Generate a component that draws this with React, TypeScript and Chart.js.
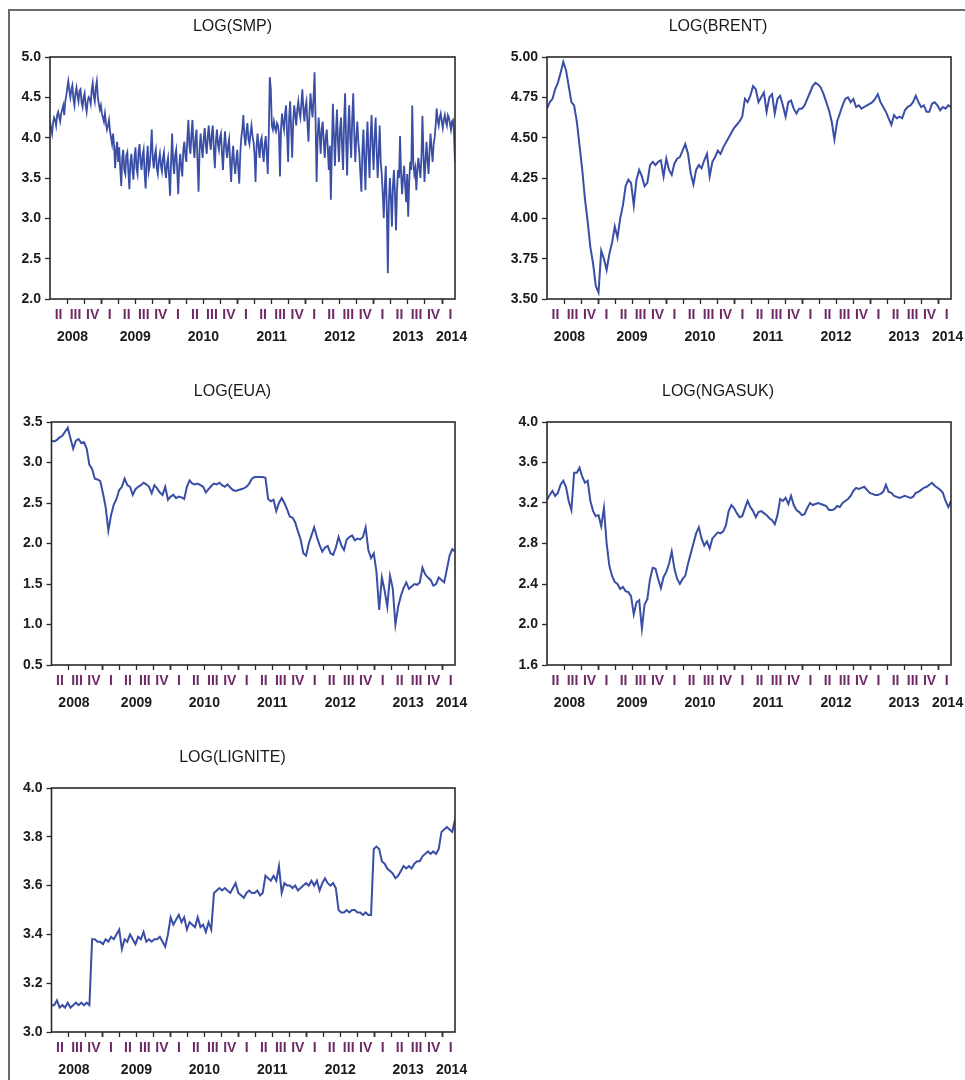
import React, { useEffect, useRef } from "react";
import { Chart, registerables } from "chart.js";

Chart.register(...registerables);

const FONT = "'Liberation Sans', Arial, sans-serif";
const LINE_COLOR = "#3a4ea6";
const AXIS_COLOR = "#2a2a2a";
const TEXT_COLOR = "#1a1a1a";
const QUARTER_COLOR = "#6e2a66";

const X_START = 2008.25;
const X_END = 2014.19;

const QUARTER_TICKS = [
  2008.5, 2008.75, 2009, 2009.25, 2009.5, 2009.75, 2010, 2010.25, 2010.5, 2010.75,
  2011, 2011.25, 2011.5, 2011.75, 2012, 2012.25, 2012.5, 2012.75, 2013, 2013.25,
  2013.5, 2013.75, 2014,
];
const QUARTER_LABEL_POS = [
  2008.375, 2008.625, 2008.875,
  2009.125, 2009.375, 2009.625, 2009.875,
  2010.125, 2010.375, 2010.625, 2010.875,
  2011.125, 2011.375, 2011.625, 2011.875,
  2012.125, 2012.375, 2012.625, 2012.875,
  2013.125, 2013.375, 2013.625, 2013.875,
  2014.125,
];
const QUARTER_LABELS = [
  "II", "III", "IV",
  "I", "II", "III", "IV",
  "I", "II", "III", "IV",
  "I", "II", "III", "IV",
  "I", "II", "III", "IV",
  "I", "II", "III", "IV",
  "I",
];
const YEAR_LABEL_POS = [2008.58, 2009.5, 2010.5, 2011.5, 2012.5, 2013.5, 2014.14];
const YEAR_LABELS = ["2008", "2009", "2010", "2011", "2012", "2013", "2014"];

const SMP = [
  4.20, 4.12, 4.05, 4.18, 4.25, 4.22, 4.15, 4.28, 4.32, 4.26, 4.20, 4.30, 4.35, 4.40, 4.28, 4.45, 4.52, 4.62, 4.70, 4.58,
  4.50, 4.60, 4.65, 4.48, 4.40, 4.55, 4.62, 4.52, 4.45, 4.58, 4.60, 4.44, 4.38, 4.50, 4.55, 4.40, 4.32, 4.45, 4.50, 4.48,
  4.42, 4.60, 4.68, 4.52, 4.45, 4.62, 4.70, 4.50, 4.42, 4.35, 4.40, 4.30, 4.25, 4.20, 4.30, 4.18, 4.10, 4.15, 4.22, 4.08,
  4.00, 3.92, 4.05, 3.90, 3.62, 3.85, 3.95, 3.70, 3.88, 3.62, 3.40, 3.75, 3.85, 3.60, 3.55, 3.78, 3.82, 3.58, 3.36, 3.70,
  3.80, 3.60, 3.48, 3.75, 3.88, 3.62, 3.55, 3.82, 3.92, 3.70, 3.60, 3.78, 3.85, 3.55, 3.37, 3.72, 3.90, 3.58, 3.65, 3.85,
  4.10, 3.75, 3.62, 3.78, 3.85, 3.62, 3.55, 3.72, 3.80, 3.65, 3.58, 3.75, 3.82, 3.60, 3.50, 3.68, 3.75, 3.52, 3.28, 3.70,
  4.05, 3.70, 3.55, 3.78, 3.85, 3.60, 3.30, 3.65, 3.80, 3.62, 3.52, 3.85, 3.95, 3.78, 3.70, 4.00, 4.22, 3.90, 3.80, 4.05,
  4.22, 3.90, 3.75, 4.00, 4.10, 3.70, 3.33, 3.85, 4.05, 3.88, 3.75, 3.98, 4.12, 3.92, 3.80, 4.02, 4.15, 3.95, 3.85, 4.05,
  4.15, 3.85, 3.62, 3.95, 4.10, 3.92, 3.85, 4.00, 4.05, 3.80, 3.60, 3.90, 4.08, 3.88, 3.75, 3.90, 3.98, 3.70, 3.45, 3.75,
  3.90, 3.68, 3.55, 3.72, 3.85, 3.62, 3.43, 3.80, 4.00, 4.10, 4.28, 4.02, 3.90, 4.08, 4.18, 3.98, 3.92, 4.05, 4.15, 4.02,
  3.95, 3.80, 3.45, 3.90, 4.05, 3.88, 3.75, 3.95, 4.00, 3.82, 3.70, 3.92, 4.02, 3.80, 3.55, 4.05, 4.75, 4.60, 4.15, 4.10,
  4.20, 4.12, 4.08, 4.18, 4.15, 4.05, 3.52, 4.10, 4.30, 4.18, 4.10, 4.30, 4.40, 4.05, 3.70, 4.25, 4.45, 4.10, 3.75, 4.20,
  4.40, 4.28, 4.15, 4.35, 4.45, 4.32, 4.25, 4.42, 4.60, 4.35, 4.20, 4.38, 4.45, 4.18, 3.95, 4.30, 4.55, 4.38, 4.25, 4.50,
  4.81, 4.20, 3.45, 4.00, 4.25, 4.05, 3.80, 4.10, 4.20, 3.95, 3.75, 4.00, 4.10, 3.85, 3.60, 3.90, 3.23, 3.85, 4.42, 4.05,
  3.65, 4.05, 4.35, 3.95, 3.70, 4.10, 4.25, 3.90, 3.60, 4.20, 4.55, 3.95, 3.53, 4.10, 4.40, 4.00, 3.75, 4.25, 4.55, 4.05,
  3.70, 4.00, 4.20, 3.95, 3.80, 3.55, 3.33, 3.85, 4.10, 3.70, 3.35, 3.90, 4.20, 3.80, 3.50, 4.00, 4.28, 3.90, 3.60, 4.00,
  4.25, 3.85, 3.50, 3.80, 4.15, 3.70, 3.55, 3.30, 3.00, 3.40, 3.65, 3.10, 2.32, 3.20, 3.50, 3.25, 2.90, 3.40, 3.60, 3.30,
  2.85, 3.35, 3.60, 3.50, 4.02, 3.55, 3.30, 3.50, 3.65, 3.40, 3.20, 3.55, 3.02, 3.45, 3.70, 3.60, 4.40, 3.70, 3.55, 3.62,
  3.35, 3.60, 3.75, 3.62, 3.50, 3.75, 4.27, 3.80, 3.45, 3.70, 3.95, 3.72, 3.55, 3.85, 4.05, 3.85, 3.70, 3.92, 4.00, 4.15,
  4.36, 4.22, 4.15, 4.25, 4.30, 4.20, 4.12, 4.22, 4.28, 4.20, 4.15, 4.28, 4.25, 4.18, 4.10, 4.20, 4.22, 4.05, 3.70,
];

const BRENT = [
  4.68, 4.72, 4.74, 4.80, 4.84, 4.90, 4.97, 4.92, 4.82, 4.72,
  4.70, 4.60, 4.45, 4.30, 4.12, 3.98, 3.82, 3.72, 3.58, 3.54,
  3.80, 3.75, 3.68, 3.78, 3.85, 3.95, 3.88, 4.00, 4.08, 4.20,
  4.24, 4.22, 4.08, 4.24, 4.30, 4.26, 4.20, 4.22, 4.33, 4.35,
  4.33, 4.35, 4.36, 4.26, 4.37, 4.30, 4.27, 4.34, 4.37, 4.38,
  4.42, 4.46, 4.40, 4.28, 4.21, 4.30, 4.33, 4.31, 4.36, 4.40,
  4.26, 4.35, 4.38, 4.42, 4.40, 4.44, 4.47, 4.50, 4.53, 4.56,
  4.58, 4.60, 4.63, 4.74, 4.72, 4.76, 4.82, 4.80, 4.72, 4.75,
  4.78, 4.66, 4.75, 4.77, 4.65, 4.74, 4.76, 4.70, 4.63, 4.72,
  4.73, 4.68, 4.65, 4.68, 4.68, 4.70, 4.74, 4.78, 4.82, 4.84,
  4.83, 4.81, 4.77, 4.72, 4.67, 4.60, 4.49, 4.60, 4.65, 4.70,
  4.74, 4.75, 4.72, 4.74, 4.69, 4.70, 4.68, 4.69, 4.70, 4.71,
  4.72, 4.74, 4.77, 4.72, 4.69, 4.66, 4.62, 4.58, 4.64, 4.62,
  4.63, 4.62, 4.67, 4.69, 4.70, 4.72, 4.76, 4.72, 4.69, 4.70,
  4.66, 4.66, 4.71, 4.72, 4.70, 4.67, 4.69, 4.68, 4.70, 4.69,
];

const EUA = [
  3.27, 3.26, 3.28, 3.31, 3.33, 3.38, 3.43, 3.30, 3.17, 3.27,
  3.29, 3.24, 3.25, 3.17, 2.97, 2.92, 2.80, 2.79, 2.77, 2.62,
  2.45, 2.16, 2.35, 2.48, 2.55, 2.66, 2.70, 2.80, 2.72, 2.70,
  2.60, 2.67, 2.70, 2.72, 2.75, 2.73, 2.70, 2.62, 2.72, 2.68,
  2.63, 2.60, 2.70, 2.54, 2.58, 2.60, 2.56, 2.58, 2.57, 2.55,
  2.70, 2.78, 2.74, 2.73, 2.74, 2.72, 2.70, 2.63, 2.67, 2.71,
  2.74, 2.73, 2.75, 2.72, 2.70, 2.73, 2.69, 2.66, 2.65, 2.66,
  2.67, 2.68, 2.70, 2.74, 2.80, 2.82, 2.82, 2.82, 2.82, 2.81,
  2.55, 2.52, 2.54, 2.40, 2.50, 2.56, 2.50, 2.42, 2.33, 2.32,
  2.26, 2.15, 2.05, 1.88, 1.85, 2.00, 2.10, 2.20, 2.08, 1.98,
  1.90, 1.95, 1.97, 1.88, 1.86, 1.95, 2.08, 1.98, 1.92, 2.05,
  2.08, 2.10, 2.04, 2.06, 2.05, 2.08, 2.20, 1.92, 1.82, 1.88,
  1.65, 1.18, 1.58, 1.42, 1.22, 1.60, 1.45, 1.00, 1.22, 1.35,
  1.45, 1.52, 1.44, 1.47, 1.50, 1.49, 1.52, 1.70, 1.62, 1.58,
  1.55, 1.48, 1.50, 1.58, 1.55, 1.52, 1.68, 1.85, 1.93, 1.90,
];

const NGASUK = [
  3.23, 3.28, 3.32, 3.27, 3.30, 3.38, 3.42, 3.36, 3.22, 3.13,
  3.50, 3.50, 3.55, 3.46, 3.40, 3.42, 3.22, 3.12, 3.07, 3.08,
  2.97, 3.15, 2.80, 2.58, 2.48, 2.42, 2.40, 2.35, 2.37, 2.33,
  2.32, 2.28, 2.10, 2.22, 2.24, 1.96, 2.20, 2.25, 2.45, 2.56,
  2.55, 2.45, 2.36, 2.47, 2.52, 2.60, 2.72, 2.55, 2.45, 2.40,
  2.45, 2.48, 2.60, 2.70, 2.80, 2.90, 2.96, 2.85, 2.78, 2.82,
  2.75, 2.85, 2.88, 2.91, 2.90, 2.92, 2.98, 3.12, 3.18, 3.15,
  3.10, 3.06, 3.07, 3.15, 3.22, 3.16, 3.12, 3.06, 3.11, 3.12,
  3.10, 3.08, 3.05, 3.03, 2.99, 3.08, 3.24, 3.22, 3.25, 3.19,
  3.27, 3.18, 3.13, 3.11, 3.08, 3.09, 3.15, 3.20, 3.18, 3.19,
  3.20, 3.19, 3.18, 3.17, 3.13, 3.13, 3.14, 3.17, 3.16, 3.20,
  3.22, 3.24, 3.27, 3.32, 3.35, 3.34, 3.35, 3.36, 3.33, 3.30,
  3.29, 3.28, 3.28, 3.29, 3.31, 3.38, 3.31, 3.30, 3.27, 3.26,
  3.25, 3.26, 3.27, 3.26, 3.25, 3.26, 3.30, 3.31, 3.33, 3.35,
  3.36, 3.38, 3.40, 3.37, 3.35, 3.33, 3.30, 3.22, 3.16, 3.22,
];

const LIGNITE = [
  3.11, 3.11, 3.13, 3.10, 3.11, 3.10, 3.12, 3.10, 3.11, 3.12,
  3.11, 3.12, 3.11, 3.12, 3.11, 3.38, 3.38, 3.37, 3.37, 3.36,
  3.38, 3.37, 3.39, 3.38, 3.40, 3.42, 3.34, 3.38, 3.37, 3.40,
  3.38, 3.36, 3.39, 3.38, 3.41, 3.37, 3.38, 3.37, 3.38, 3.38,
  3.39, 3.37, 3.35, 3.40, 3.47, 3.44, 3.46, 3.48, 3.45, 3.47,
  3.42, 3.45, 3.44, 3.43, 3.47, 3.43, 3.44, 3.41, 3.45, 3.42,
  3.57, 3.58, 3.59, 3.58, 3.59, 3.58, 3.57, 3.59, 3.61, 3.57,
  3.56, 3.55, 3.57, 3.58, 3.57, 3.57, 3.58, 3.56, 3.57, 3.64,
  3.63, 3.62, 3.64, 3.62, 3.68, 3.57, 3.61, 3.60, 3.60, 3.59,
  3.60, 3.58, 3.59, 3.60, 3.61, 3.60, 3.62, 3.60, 3.62, 3.58,
  3.61, 3.63, 3.61, 3.60, 3.61, 3.59, 3.50, 3.49, 3.49, 3.50,
  3.49, 3.50, 3.50, 3.49, 3.49, 3.48, 3.49, 3.48, 3.48, 3.75,
  3.76, 3.75, 3.70, 3.69, 3.67, 3.66, 3.65, 3.63, 3.64, 3.66,
  3.68, 3.67, 3.68, 3.67, 3.69, 3.70, 3.70, 3.72, 3.73, 3.74,
  3.73, 3.74, 3.73, 3.75, 3.82, 3.83, 3.84, 3.83, 3.82, 3.87,
];

const SMP_Y_TICKS = [2.0, 2.5, 3.0, 3.5, 4.0, 4.5, 5.0];
const BRENT_Y_TICKS = [3.5, 3.75, 4.0, 4.25, 4.5, 4.75, 5.0];
const EUA_Y_TICKS = [0.5, 1.0, 1.5, 2.0, 2.5, 3.0, 3.5];
const NGASUK_Y_TICKS = [1.6, 2.0, 2.4, 2.8, 3.2, 3.6, 4.0];
const LIGNITE_Y_TICKS = [3.0, 3.2, 3.4, 3.6, 3.8, 4.0];

const framePlugin = {
  id: "frame",
  afterDraw(chart: any) {
    const { ctx, chartArea: a } = chart;
    ctx.save();
    ctx.strokeStyle = AXIS_COLOR;
    ctx.lineWidth = 1.6;
    ctx.strokeRect(a.left, a.top, a.right - a.left, a.bottom - a.top);
    ctx.restore();
  },
};

type PlotRect = { left: number; top: number; right: number; bottom: number };

const TITLE_BLOCK = 45;
const BOTTOM_BLOCK = 48;

function Panel(props: {
  title: string;
  values: number[];
  yTicks: number[];
  decimals: number;
  plot: PlotRect;
  canvasLeft: number;
  canvasRight: number;
  lineWidth: number;
}) {
  const { title, values, yTicks, decimals, plot, canvasLeft, canvasRight, lineWidth } = props;
  const ref = useRef<HTMLCanvasElement>(null);
  const yw = plot.left - canvasLeft;
  const padRight = canvasRight - plot.right;
  const top = plot.top - TITLE_BLOCK;
  const width = canvasRight - canvasLeft;
  const height = plot.bottom - plot.top + TITLE_BLOCK + BOTTOM_BLOCK;

  useEffect(() => {
    if (!ref.current) return;
    const n = values.length;
    const data = values.map((v, i) => ({
      x: X_START + (i * (X_END - X_START)) / (n - 1),
      y: v,
    }));
    const tickFont = { family: FONT, size: 14, weight: "bold" as const, lineHeight: 1.2 };
    const chart = new Chart(ref.current, {
      type: "line",
      data: {
        datasets: [
          {
            data,
            borderColor: LINE_COLOR,
            borderWidth: lineWidth,
            pointRadius: 0,
            tension: 0,
            fill: false,
          },
        ],
      },
      options: {
        responsive: false,
        animation: false,
        events: [],
        layout: { padding: { left: 0, right: padRight, top: 0, bottom: 0 } },
        plugins: {
          legend: { display: false },
          tooltip: { enabled: false },
          title: {
            display: true,
            text: title,
            color: TEXT_COLOR,
            font: { family: FONT, size: 16, weight: "normal", lineHeight: 1.2 },
            padding: { top: 5.4, bottom: 20.4 },
          },
        },
        scales: {
          x: {
            type: "linear",
            position: "bottom",
            weight: 0,
            min: X_START,
            max: X_END,
            grid: {
              display: true,
              drawOnChartArea: false,
              drawTicks: true,
              tickLength: 5,
              tickColor: AXIS_COLOR,
              tickWidth: (ctx: any) => (ctx.tick && Number.isInteger(ctx.tick.value) ? 1.8 : 1.3),
            },
            border: { display: false },
            ticks: { display: false },
            afterBuildTicks: (s: any) => {
              s.ticks = QUARTER_TICKS.map((v) => ({ value: v }));
            },
            afterFit: (s: any) => {
              s.height = 5;
              s.paddingLeft = 0;
              s.paddingRight = 0;
            },
          },
          xq: {
            type: "linear",
            position: "bottom",
            weight: 1,
            min: X_START,
            max: X_END,
            grid: { display: false, drawTicks: false },
            border: { display: false },
            ticks: {
              autoSkip: false,
              maxRotation: 0,
              minRotation: 0,
              padding: 3,
              color: QUARTER_COLOR,
              font: tickFont,
              callback: (_v: any, i: number) => QUARTER_LABELS[i],
            },
            afterBuildTicks: (s: any) => {
              s.ticks = QUARTER_LABEL_POS.map((v) => ({ value: v }));
            },
            afterFit: (s: any) => {
              s.height = 22;
              s.paddingLeft = 0;
              s.paddingRight = 0;
            },
          },
          xy: {
            type: "linear",
            position: "bottom",
            weight: 2,
            min: X_START,
            max: X_END,
            grid: { display: false, drawTicks: false },
            border: { display: false },
            ticks: {
              autoSkip: false,
              maxRotation: 0,
              minRotation: 0,
              padding: 3,
              color: TEXT_COLOR,
              font: tickFont,
              callback: (_v: any, i: number) => YEAR_LABELS[i],
            },
            afterBuildTicks: (s: any) => {
              s.ticks = YEAR_LABEL_POS.map((v) => ({ value: v }));
            },
            afterFit: (s: any) => {
              s.height = 21;
              s.paddingLeft = 0;
              s.paddingRight = 0;
            },
          },
          y: {
            type: "linear",
            position: "left",
            min: yTicks[0],
            max: yTicks[yTicks.length - 1],
            grid: {
              display: true,
              drawOnChartArea: false,
              drawTicks: true,
              tickLength: 5,
              tickColor: AXIS_COLOR,
              tickWidth: 1.3,
            },
            border: { display: false },
            ticks: {
              padding: 4,
              color: TEXT_COLOR,
              font: tickFont,
              callback: (v: any) => Number(v).toFixed(decimals),
            },
            afterBuildTicks: (s: any) => {
              s.ticks = yTicks.map((v) => ({ value: v }));
            },
            afterFit: (s: any) => {
              s.width = yw;
              s.paddingTop = 0;
              s.paddingBottom = 0;
            },
          },
        },
      } as any,
      plugins: [framePlugin],
    });
    return () => chart.destroy();
  }, []);

  return (
    <canvas
      ref={ref}
      width={width}
      height={height}
      style={{
        position: "absolute",
        left: canvasLeft,
        top,
        width,
        height,
      }}
    />
  );
}

export default function App() {
  return (
    <div
      style={{
        position: "absolute",
        left: 0,
        top: 0,
        width: 965,
        height: 1080,
        overflow: "hidden",
        background: "#ffffff",
      }}
    >
      <div
        style={{
          position: "absolute",
          left: 8,
          top: 9,
          width: 957,
          height: 1071,
          borderTop: "2px solid #6a6a6a",
          borderLeft: "2px solid #6a6a6a",
          boxSizing: "border-box",
        }}
      />
      <Panel
        title="LOG(SMP)"
        values={SMP}
        yTicks={SMP_Y_TICKS}
        decimals={1}
        plot={{ left: 50, top: 57, right: 455, bottom: 299 }}
        canvasLeft={10}
        canvasRight={475}
        lineWidth={1.8}
      />
      <Panel
        title="LOG(BRENT)"
        values={BRENT}
        yTicks={BRENT_Y_TICKS}
        decimals={2}
        plot={{ left: 547, top: 57, right: 951, bottom: 299 }}
        canvasLeft={485}
        canvasRight={965}
        lineWidth={2}
      />
      <Panel
        title="LOG(EUA)"
        values={EUA}
        yTicks={EUA_Y_TICKS}
        decimals={1}
        plot={{ left: 51.5, top: 422, right: 455, bottom: 665 }}
        canvasLeft={10}
        canvasRight={475}
        lineWidth={2}
      />
      <Panel
        title="LOG(NGASUK)"
        values={NGASUK}
        yTicks={NGASUK_Y_TICKS}
        decimals={1}
        plot={{ left: 547, top: 422, right: 951, bottom: 665 }}
        canvasLeft={485}
        canvasRight={965}
        lineWidth={2}
      />
      <Panel
        title="LOG(LIGNITE)"
        values={LIGNITE}
        yTicks={LIGNITE_Y_TICKS}
        decimals={1}
        plot={{ left: 51.5, top: 788, right: 455, bottom: 1032 }}
        canvasLeft={10}
        canvasRight={475}
        lineWidth={2}
      />
    </div>
  );
}
